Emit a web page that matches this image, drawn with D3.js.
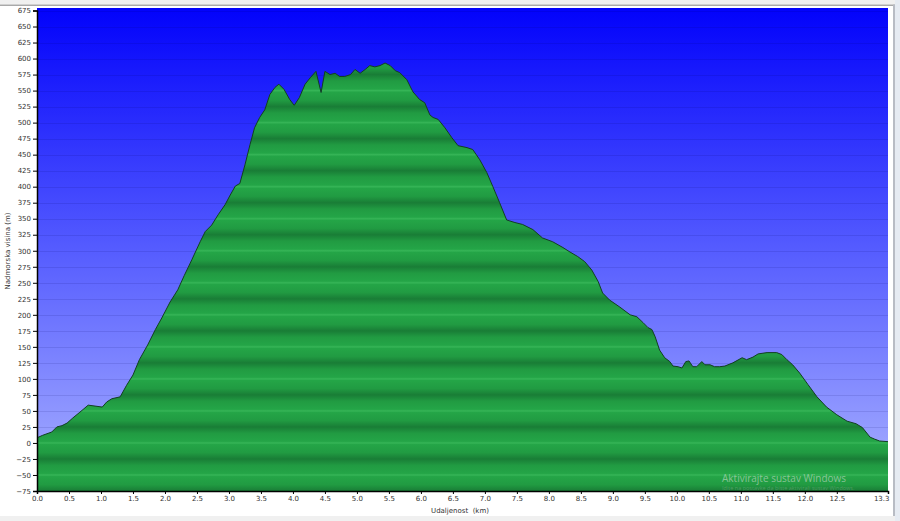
<!DOCTYPE html>
<html><head><meta charset="utf-8">
<script src="https://cdn.jsdelivr.net/npm/d3@7"></script>
<style>html,body{margin:0;padding:0;background:#fff;overflow:hidden}</style>
</head><body>
<svg id="c" width="900" height="521"></svg>
<script>
// distance along the route (km)
const distances = [
  0,0.09,0.23,0.31,0.39,0.47,0.56,0.67,0.8,0.875,
  1.02,1.09,1.17,1.3,1.4,1.5,1.6,1.73,1.85,1.95,
  2.08,2.2,2.3,2.42,2.55,2.63,2.73,2.83,2.94,3.02,
  3.1,3.17,3.25,3.33,3.4,3.48,3.56,3.64,3.72,3.78,
  3.86,3.95,4.02,4.1,4.19,4.27,4.36,4.44,4.5,4.58,
  4.66,4.73,4.81,4.9,4.97,5.05,5.13,5.2,5.28,5.36,
  5.44,5.52,5.6,5.67,5.78,5.875,5.98,6.06,6.14,6.19,
  6.27,6.375,6.48,6.58,6.72,6.81,6.92,7.03,7.125,7.23,
  7.34,7.47,7.59,7.75,7.9,8.06,8.22,8.33,8.45,8.56,
  8.67,8.77,8.84,8.95,9.11,9.27,9.375,9.47,9.55,9.61,
  9.66,9.73,9.81,9.89,9.94,10.02,10.08,10.14,10.19,10.25,
  10.31,10.39,10.44,10.52,10.59,10.67,10.75,10.875,11.02,11.09,
  11.19,11.27,11.41,11.56,11.64,11.72,11.81,11.92,12.05,12.19,
  12.34,12.5,12.66,12.8,12.9,13.02,13.09,13.17,13.3
];
// elevation (m)
const elevations = [
  8,12,17,25,27,31,39,48,59,58,
  56,64,69,72,90,106,130,153,177,195,
  220,239,261,286,314,330,340,356,372,387,
  401,405,434,466,492,508,520,544,555,560,
  552,536,527,539,560,570,580,547,580,575,
  577,572,572,575,583,577,583,589,587,589,
  593,589,581,578,567,548,536,531,512,508,
  505,492,477,464,461,458,442,422,400,375,
  348,344,341,333,320,314,305,298,291,283,
  270,252,234,223,212,200,197,188,180,177,
  166,145,133,127,120,119,117,127,128,119,
  119,127,122,122,119,119,120,125,133,130,
  134,139,141,141,138,130,122,109,91,72,
  56,44,34,30,24,9,6,3,2
];
const yTicks = d3.range(-75, 676, 25);
const xTicks = d3.range(0, 12.51, 0.5).concat([13.3]);
const xTitle = "Udaljenost  (km)";
const yTitle = "Nadmorska visina (m)";
const watermark1 = "Aktivirajte sustav Windows";
const watermark2 = "Idite na postavke da biste aktivirali sustav Windows.";

const data = distances.map((d, i) => ({d, e: elevations[i]}));

const svg = d3.select("#c");
const L = 37, R = 888, T = 8, B = 491;
const x = d3.scaleLinear().domain([0, 13.3]).range([L, R]);
const y = d3.scaleLinear().domain([-75, 675]).range([B, 10.5]);

// window chrome
svg.append("rect").attr("x",0).attr("y",0).attr("width",900).attr("height",521).attr("fill","#ffffff");
svg.append("rect").attr("x",0).attr("y",0).attr("width",900).attr("height",4.5).attr("fill","#f0f0f0");
svg.append("rect").attr("x",0).attr("y",4.5).attr("width",895).attr("height",1.5).attr("fill","#a9a9a9");
svg.append("rect").attr("x",893).attr("y",4.5).attr("width",2).attr("height",516).attr("fill","#b8bcc4");
svg.append("rect").attr("x",895).attr("y",0).attr("width",5).attr("height",521).attr("fill","#e6ebf2");
svg.append("rect").attr("x",0).attr("y",516).attr("width",895).attr("height",5).attr("fill","#f0f0f0");

const defs = svg.append("defs");
const bg = defs.append("linearGradient").attr("id","bg")
  .attr("gradientUnits","userSpaceOnUse").attr("x1",0).attr("x2",0).attr("y1",T).attr("y2",B);
bg.append("stop").attr("offset","0").attr("stop-color","#0202fb");
bg.append("stop").attr("offset","0.5").attr("stop-color","#555cff");
bg.append("stop").attr("offset","1").attr("stop-color","#aab2ff");

const gg = defs.append("linearGradient").attr("id","gg")
  .attr("gradientUnits","userSpaceOnUse").attr("spreadMethod","repeat")
  .attr("x1",0).attr("x2",0).attr("y1",y(50)).attr("y2",y(0));
[[0,"#36b557"],[0.05,"#24a547"],[0.3,"#219b42"],[0.5,"#197d36"],[0.7,"#219b42"],[0.95,"#24a547"],[1,"#36b557"]]
  .forEach(([o,c]) => gg.append("stop").attr("offset",o).attr("stop-color",c));

svg.append("rect").attr("x",L).attr("y",T).attr("width",R-L).attr("height",B-T).attr("fill","url(#bg)");

// grid lines on the sky
svg.append("g").selectAll("line").data(yTicks).join("line")
  .attr("x1",L).attr("x2",R).attr("y1",d=>Math.round(y(d))+0.5).attr("y2",d=>Math.round(y(d))+0.5)
  .attr("stroke","rgba(0,0,90,0.11)").attr("stroke-width",1);

const area = d3.area().x(d=>x(d.d)).y0(B).y1(d=>y(d.e)).curve(d3.curveLinear);
svg.append("path").datum(data).attr("d",area).attr("fill","url(#gg)");
const line = d3.line().x(d=>x(d.d)).y(d=>y(d.e)).curve(d3.curveLinear);
svg.append("path").datum(data).attr("d",line).attr("fill","none").attr("stroke","#123f22").attr("stroke-width",1);

// watermark
svg.append("text").attr("x",722).attr("y",482).text(watermark1)
  .attr("font-family","'Open Sans', 'DejaVu Sans', sans-serif").attr("font-size",10)
  .attr("fill","rgba(220,225,220,0.55)");
svg.append("text").attr("x",722).attr("y",490).text(watermark2)
  .attr("font-family","'Open Sans', 'DejaVu Sans', sans-serif").attr("font-size",5.5)
  .attr("fill","rgba(200,205,200,0.3)");

// axes
const font = "'DejaVu Sans', Verdana, sans-serif";
const yAxis = svg.append("g").attr("transform",`translate(${L},0)`)
  .call(d3.axisLeft(y).tickValues(yTicks).tickSize(4).tickPadding(2).tickFormat(d3.format("d")));
yAxis.select(".domain").attr("stroke","#000").attr("stroke-width",1.5);
yAxis.selectAll(".tick line").attr("stroke","#000");
yAxis.selectAll("text").attr("font-family",font).attr("font-size",7).attr("fill","#333");

const xAxis = svg.append("g").attr("transform",`translate(0,${B})`)
  .call(d3.axisBottom(x).tickValues(xTicks).tickSize(3).tickPadding(2).tickFormat(d3.format(".1f")));
xAxis.select(".domain").attr("stroke","#000").attr("stroke-width",1.5);
xAxis.selectAll(".tick line").attr("stroke","#000");
xAxis.selectAll("text").attr("font-family",font).attr("font-size",7).attr("fill","#333");
xAxis.selectAll(".tick").filter(d=>d===13.3).select("text").attr("text-anchor","end").attr("dx",1);

svg.append("text").attr("x",460).attr("y",513).attr("text-anchor","middle").text(xTitle)
  .attr("font-family",font).attr("font-size",7).attr("fill","#333").style("white-space","pre");
svg.append("text").attr("transform","translate(10,251) rotate(-90)").attr("text-anchor","middle").text(yTitle)
  .attr("font-family",font).attr("font-size",7).attr("fill","#333");
</script>
</body></html>
